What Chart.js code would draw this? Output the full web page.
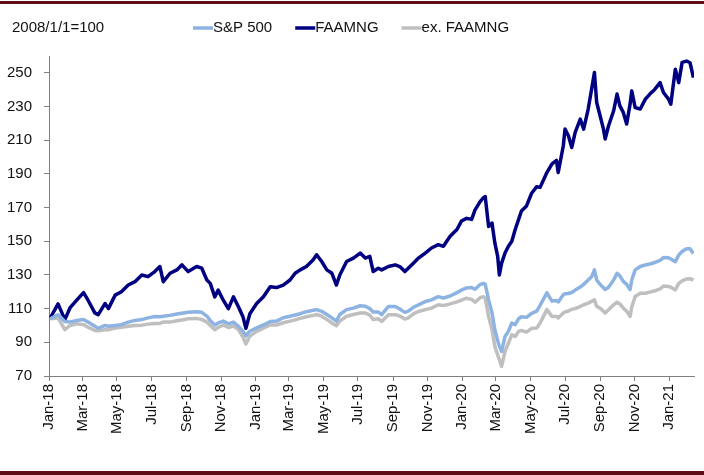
<!DOCTYPE html>
<html>
<head>
<meta charset="utf-8">
<script src="https://cdn.jsdelivr.net/npm/chart.js@4/dist/chart.umd.min.js"></script>
<style>
  html, body { margin: 0; padding: 0; background: #fff; }
  #wrap { width: 704px; height: 475px; position: relative; }
</style>
</head>
<body>
<div id="wrap"><canvas id="myChart1"></canvas></div>
<script>
// days since 2018-01-01
const days = [
  2, 16, 28, 37, 49, 61, 69, 81, 87, 99,
  105, 117, 128, 140, 152, 164, 175, 187, 196, 202,
  214, 226, 235, 246, 261, 270, 279, 285, 293, 299,
  308, 317, 326, 335, 343, 348, 355, 367, 379, 391,
  402, 414, 426, 435, 444, 455, 467, 473, 482, 491,
  500, 508, 514, 526, 538, 550, 559, 567, 573, 582,
  588, 600, 612, 620, 629, 635, 644, 653, 665, 676,
  688, 697, 709, 721, 729, 738, 747, 753, 762, 768,
  771, 777, 783, 788, 793, 796, 800, 806, 812, 818,
  824, 830, 835, 844, 853, 862, 868, 880, 889, 897,
  900, 909, 912, 918, 924, 930, 939, 945, 953, 959,
  964, 968, 974, 980, 983, 989, 998, 1004, 1009, 1015,
  1021, 1027, 1030, 1036, 1045, 1054, 1062, 1071, 1080, 1086,
  1095, 1099, 1107, 1113, 1119, 1127, 1133, 1139
];

const spx = [
  104, 106.3, 102.3, 102, 103, 103.5, 102, 99.5, 98.3, 100,
  99.5, 100, 100.5, 102, 103, 103.5, 104.5, 105.3, 105.2, 105.5,
  106, 106.8, 107.3, 107.8, 108.2, 107.8, 105.5, 103, 100.3, 101.5,
  102.6, 101, 102, 99.5, 96.5, 93.8, 96.6, 98.6, 100.3, 102.3,
  102.6, 104.6, 105.5, 106.2, 107, 108.2, 109, 109.4, 108.4, 106.5,
  104.5, 102.6, 106.5, 109.4, 110.3, 111.7, 111.4, 110, 108, 108,
  106.4, 111.3, 111.3, 109.8, 107.8, 108.5, 110.8, 112.2, 114.2, 115.2,
  117.1, 116.3, 117.5, 119.5, 121, 122.3, 122.5, 121.5, 124.3, 125,
  124.5, 115.2, 107.4, 97.5, 91, 87.6, 84.6, 93.5, 96.5, 101.5,
  100.5, 104, 105.2, 104.8, 107.2, 108.5, 112, 119.4, 114.5, 114.8,
  114, 118.3, 118.8, 119, 119.6, 121, 122.8, 124.4, 127, 128.9,
  133, 127, 124.4, 122.4, 121.4, 122.7, 127, 131, 129.5, 126.2,
  124.4, 121.4, 127, 133, 135, 135.9, 136.5, 137.4, 138.6, 140.3,
  140.2, 139.5, 137.9, 141.8, 144, 145.5, 145.5, 142.8
];

const faamng = [
  104.3, 112.8, 103.5, 110.4, 115, 119.5, 115, 107.5, 106.4, 113,
  110, 118, 120, 124, 126, 130, 129, 132, 135, 126,
  131, 133, 136, 132, 135, 134, 127, 125, 117, 121,
  115, 110, 117, 111, 105, 98.3, 107, 113, 117, 123,
  122.5, 124, 127, 131, 133, 135, 139, 142, 138, 133,
  131, 124, 130, 138, 140, 143, 140, 141, 132, 134,
  133, 135, 136, 135, 132, 134, 137, 140, 143, 146,
  148, 147, 153, 157, 162, 163.6, 163, 168.6, 173.5, 176,
  176.5, 158.7, 160.8, 149, 141, 130, 137, 143, 147, 150,
  157, 163, 168, 171, 178.5, 182.4, 182, 190.8, 196, 198,
  190.8, 206.7, 216.6, 212.6, 205.7, 214.6, 222.5, 216.6, 228.5, 240.3,
  250.2, 232.4, 224.5, 216.6, 210.7, 218.6, 227.5, 237.4, 230.4, 226.5,
  219.6, 231.4, 239.3, 229.4, 228.5, 234.4, 237.4, 240.3, 244.2, 238.3,
  234.4, 231.4, 252.2, 244.2, 256.2, 257, 256, 247.2
];

const exFaamng = [
  104, 104.5, 97.5, 100, 101, 100.5, 99, 97, 96.8, 97.5,
  97.5, 98.5, 99, 99.5, 100, 100.2, 100.8, 101.2, 101.2, 102,
  102, 102.8, 103.3, 104, 104.2, 103.6, 102, 100, 97.5, 98.8,
  100.3, 98.8, 99.7, 97.5, 93, 89, 93.7, 96.5, 98.4, 100.3,
  100.3, 101.6, 102.6, 103.3, 104.2, 105.2, 106, 106.5, 105.5, 103.6,
  101.5, 99.8, 102.6, 105.5, 106.5, 107.4, 107.4, 106.2, 103.5, 104,
  102.4, 106.4, 106.4, 105.6, 103.8, 104.5, 106.9, 108.3, 109.4, 110.3,
  112.3, 111.8, 112.8, 114, 115, 116.2, 115.5, 113.8, 116.5, 117.1,
  116, 105.4, 97.5, 87.6, 82.5, 79.7, 75.7, 84.6, 89.6, 94.5,
  93.5, 96.5, 97, 96, 98.3, 98.5, 101.5, 109.4, 105.4, 105.4,
  104.5, 107.4, 108, 108.6, 109.6, 110, 111.3, 112.3, 113.3, 114.3,
  115.2, 111.3, 110.3, 108.4, 107.4, 109.3, 112.3, 113.8, 112.8, 110.3,
  108.4, 105.4, 111, 117.2, 119.1, 119.1, 119.8, 120.6, 121.8, 123.4,
  123.2, 122.7, 121.1, 125, 126.5, 127.6, 127.8, 127
];

const xTickLabels = ["Jan-18", "Mar-18", "May-18", "Jul-18", "Sep-18", "Nov-18",
  "Jan-19", "Mar-19", "May-19", "Jul-19", "Sep-19", "Nov-19",
  "Jan-20", "Mar-20", "May-20", "Jul-20", "Sep-20", "Nov-20", "Jan-21"];
const yTicks = [70, 90, 110, 130, 150, 170, 190, 210, 230, 250];
const unitLabel = "2008/1/1=100";

const monthNames = ["Jan", "Feb", "Mar", "Apr", "May", "Jun", "Jul", "Aug", "Sep", "Oct", "Nov", "Dec"];
const base = Date.UTC(2018, 0, 1);
const xTickDays = xTickLabels.map(s => {
  const [m, y] = s.split("-");
  return (Date.UTC(2000 + Number(y), monthNames.indexOf(m), 1) - base) / 86400000;
});

const toPoints = vals => vals.map((v, i) => ({ x: days[i], y: v }));

const FONT = '"Liberation Sans", Arial, sans-serif';
Chart.defaults.font.family = FONT;
Chart.defaults.font.size = 15;
Chart.defaults.color = "#111";

const frame = {
  id: "frame",
  beforeDraw(chart) {
    const c = chart.ctx;
    c.save();
    c.fillStyle = "#fff";
    c.fillRect(0, 0, chart.width, chart.height);
    c.restore();
  },
  afterDraw(chart) {
    const c = chart.ctx;
    c.save();
    c.fillStyle = "#5e0d16";
    c.fillRect(0, 1, chart.width, 3);
    c.fillRect(0, 471, chart.width, 4);
    c.font = "15px " + FONT;
    c.fillStyle = "#111";
    c.textBaseline = "middle";
    c.fillText(unitLabel, 12, 28);
    // legend
    let x = 193;
    chart.data.datasets.forEach(ds => {
      c.strokeStyle = ds.borderColor;
      c.lineWidth = 3.5;
      c.beginPath();
      c.moveTo(x, 28);
      c.lineTo(x + 20, 28);
      c.stroke();
      c.fillText(ds.label, x + 20, 28);
      x += 20 + c.measureText(ds.label).width + 23;
    });
    c.restore();
  }
};

const ctx = document.getElementById("myChart1").getContext("2d");
const myChart = new Chart(ctx, {
  type: "line",
  data: {
    datasets: [
      { label: "S&P 500", data: toPoints(spx), borderColor: "#8db3e2" },
      { label: "FAAMNG", data: toPoints(faamng), borderColor: "#000080" },
      { label: "ex. FAAMNG", data: toPoints(exFaamng), borderColor: "#bfbfbf" }
    ]
  },
  options: {
    responsive: true,
    maintainAspectRatio: false,
    animation: false,
    layout: { padding: { top: 56, right: 10, left: 0, bottom: 0 } },
    elements: {
      point: { radius: 0 },
      line: { borderWidth: 3.5, tension: 0, borderJoinStyle: "round" }
    },
    plugins: {
      legend: { display: false },
      tooltip: { enabled: false }
    },
    scales: {
      x: {
        type: "linear",
        min: 0,
        max: 1140,
        afterBuildTicks: scale => { scale.ticks = xTickDays.map(v => ({ value: v })); },
        afterFit: scale => { scale.height = 99; },
        border: { color: "#808080" },
        grid: { drawOnChartArea: false, tickLength: 5, color: "#808080" },
        ticks: {
          autoSkip: false,
          minRotation: 90,
          maxRotation: 90,
          padding: 3,
          callback: (v, i) => xTickLabels[i]
        }
      },
      y: {
        min: 70,
        max: 260,
        afterBuildTicks: scale => { scale.ticks = yTicks.map(v => ({ value: v })); },
        afterFit: scale => { scale.width = 49; },
        border: { color: "#808080" },
        grid: { drawOnChartArea: false, tickLength: 5, color: "#808080" },
        ticks: { padding: 12 }
      }
    }
  },
  plugins: [frame]
});
</script>
</body>
</html>
